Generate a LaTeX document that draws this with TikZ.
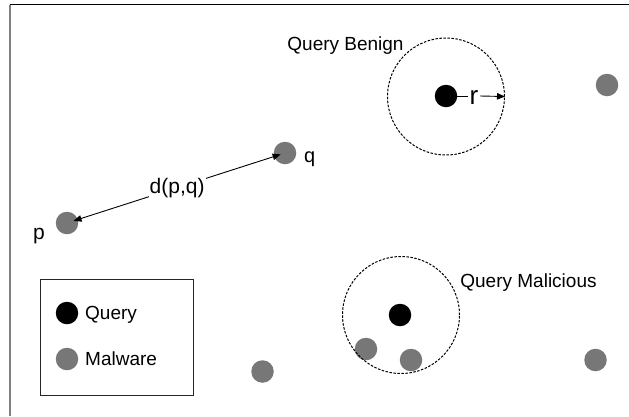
\documentclass[tikz,border=0pt]{standalone}
\usepackage{fontspec}
\setmainfont{Liberation Sans}
\usetikzlibrary{arrows.meta}
\definecolor{malgray}{RGB}{119,119,119}
\definecolor{framegray}{RGB}{128,128,128}
\begin{document}
\begin{tikzpicture}[x=1pt,y=-1pt,
  dot/.style={circle, minimum size=22.5pt, inner sep=0pt},
  query/.style={dot, fill=black},
  malware/.style={dot, fill=malgray},
  reach/.style={circle, draw, dash pattern=on 2.5pt off 1.5pt, line width=1pt,
                minimum size=117pt, inner sep=0pt},
  lbl/.style={font=\fontsize{19}{22}\selectfont, inner sep=0pt},
  tip/.style={-{Triangle[length=8pt,width=6.5pt]}, line width=0.9pt},
  tips/.style={{Triangle[length=8pt,width=6.5pt]}-{Triangle[length=8pt,width=6.5pt]}, line width=0.9pt}
]
\useasboundingbox (0,0) rectangle (629,416);
\fill[white] (0,0) rectangle (629,416);

% frame edges
\coordinate (tl) at (9.5,4.5);
\coordinate (tr) at (629,4.5);
\coordinate (bl) at (9.5,416);
\draw[framegray, line width=2pt] (tl) -- (bl);
\draw[line width=1.5pt] (tl) -- (tr);

% malware samples
\node[malware] (m1) at (607,85) {};
\node[malware] (q) at (285,153) {};
\node[malware] (p) at (67,223) {};
\node[malware] (m2) at (366,349) {};
\node[malware] (m3) at (411,360) {};
\node[malware] (m4) at (262.5,371.5) {};
\node[malware] (m5) at (595.5,360) {};

% queries
\node[query] (bq) at (446,96) {};
\node[query] (mq) at (400,315) {};

% neighbourhoods of radius r
\node[reach] (benign) at (446,96.5) {};
\node[reach] (malicious) at (401,315) {};

\node[lbl, anchor=base] (bt) at (345.5,50) {Query Benign};
\node[lbl, anchor=base] (mt) at (528.5,287) {Query Malicious};

% radius
\node[font=\fontsize{26}{30}\selectfont, inner sep=1.5pt, anchor=base] (rl) at (474,104) {r};
\draw[line width=0.9pt] (bq) -- (bq -| rl.west);
\draw[tip] (rl.east |- bq) -- (benign.east);

% distance between two samples
\path (p.center) -- (q.center) coordinate[pos=0.03] (pa) coordinate[pos=0.98] (qa);
\draw[tips] (pa) -- (qa)
  node[midway, fill=white, inner sep=1pt, font=\fontsize{21}{24}\selectfont] (d) {d(p,q)};
\node[font=\fontsize{20}{24}\selectfont, inner sep=0pt, anchor=base west] (ql) at (304,162) {q};
\node[font=\fontsize{21}{24}\selectfont, inner sep=0pt, anchor=base west] (pl) at (33,239) {p};

% legend
\node[draw=black!85, line width=1pt, minimum width=153pt, minimum height=116pt,
      inner sep=0pt] (legend) at (116.5,337) {};
\node[query] (lq) at (67,313) {};
\node[malware] (lm) at (67,359) {};
\node[lbl, anchor=base west] (lqt) at (85,319) {Query};
\node[lbl, anchor=base west] (lmt) at (85,365) {Malware};
\end{tikzpicture}
\end{document}
